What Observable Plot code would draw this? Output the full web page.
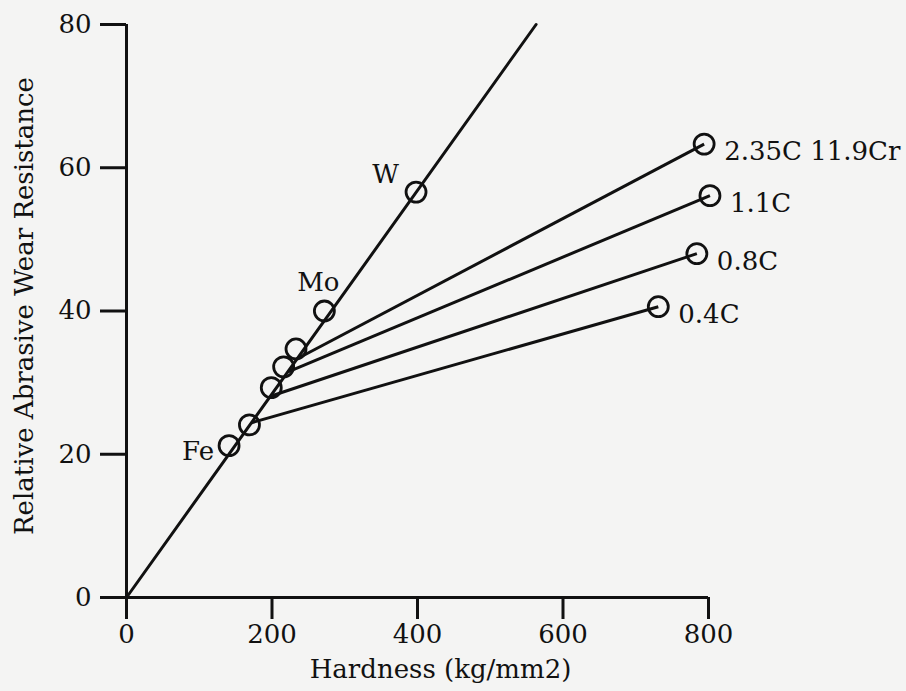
<!DOCTYPE html>
<html>
<head>
<meta charset="utf-8">
<script src="https://cdn.jsdelivr.net/npm/d3@7"></script>
<script src="https://cdn.jsdelivr.net/npm/@observablehq/plot@0.6"></script>
<style>
  html, body { margin: 0; padding: 0; background: #f4f4f3; }
  #chart { width: 906px; height: 691px; }
</style>
</head>
<body>
<div id="chart"></div>
<script>
// ---- data ----
const xTicks = [0, 200, 400, 600, 800];
const yTicks = [0, 20, 40, 60, 80];
const xLabel = "Hardness (kg/mm2)";
const yLabel = "Relative Abrasive Wear Resistance";

// pure-metal trend line (through origin)
const ironLineHardness = [0, 563];
const ironLineResistance = [0, 80];

// pure metals
const metalNames = ["Fe", "Mo", "W"];
const metalHardness = [141, 272, 398];
const metalResistance = [21.2, 40.0, 56.6];

// steels: annealed points near the trend line, hardened end points
const steelNames = ["0.4C", "0.8C", "1.1C", "2.35C 11.9Cr"];
const steelSoftHardness = [169, 199, 216, 233];
const steelSoftResistance = [24.1, 29.3, 32.2, 34.7];
const steelStartHardness = [172, 198, 222, 234];
const steelStartResistance = [24.4, 28.1, 31.5, 33.3];
const steelHardHardness = [731, 784, 802, 794];
const steelHardResistance = [40.6, 48.0, 56.1, 63.3];

// ---- build tables ----
const ironLine = ironLineHardness.map((h, i) => ({h, r: ironLineResistance[i]}));
const metals = metalNames.map((name, i) => ({name, h: metalHardness[i], r: metalResistance[i]}));
const steels = steelNames.map((name, i) => ({
  name,
  hs: steelSoftHardness[i], rs: steelSoftResistance[i],
  h0: steelStartHardness[i], r0: steelStartResistance[i],
  h1: steelHardHardness[i], r1: steelHardResistance[i]
}));
const ink = "#111";
const metalByName = n => metals.filter(d => d.name === n);

const chart = Plot.plot({
  width: 906,
  height: 691,
  marginLeft: 126,
  marginRight: 198,
  marginTop: 24,
  marginBottom: 94,
  x: {domain: [0, 800]},
  y: {domain: [0, 80]},
  style: {background: "transparent", fontFamily: "DejaVu Serif", fontSize: "26px", color: ink},
  marks: [
    Plot.axisX(xTicks, {tickSize: 22, tickPadding: 5, strokeWidth: 3, label: null, tickFormat: d => String(d)}),
    Plot.axisY(yTicks, {tickSize: 26, tickPadding: 9, strokeWidth: 3, label: null, tickFormat: d => String(d)}),
    Plot.ruleX([0], {strokeWidth: 3, stroke: ink}),
    Plot.ruleY([0], {strokeWidth: 3, stroke: ink}),
    Plot.line(ironLine, {x: "h", y: "r", stroke: ink, strokeWidth: 3}),
    Plot.link(steels, {x1: "h0", y1: "r0", x2: "h1", y2: "r1", stroke: ink, strokeWidth: 3}),
    Plot.dot(metals, {x: "h", y: "r", r: 10, stroke: ink, strokeWidth: 2.8}),
    Plot.dot(steels, {x: "hs", y: "rs", r: 10, stroke: ink, strokeWidth: 2.8}),
    Plot.dot(steels, {x: "h1", y: "r1", r: 10, stroke: ink, strokeWidth: 2.8}),
    Plot.text(steels, {x: "h1", y: "r1", text: "name", textAnchor: "start", dx: 20, dy: 8, fill: ink}),
    Plot.text(metalByName("Fe"), {x: "h", y: "r", text: "name", textAnchor: "end", dx: -15, dy: 6, fill: ink}),
    Plot.text(metalByName("Mo"), {x: "h", y: "r", text: "name", textAnchor: "middle", dx: -6, dy: -28, fill: ink}),
    Plot.text(metalByName("W"), {x: "h", y: "r", text: "name", textAnchor: "end", dx: -17, dy: -17, fill: ink}),
    Plot.text([xLabel], {frameAnchor: "bottom", textAnchor: "middle", lineAnchor: "bottom", dx: 23, dy: 80, fill: ink}),
    Plot.text([yLabel], {frameAnchor: "left", textAnchor: "middle", rotate: -90, lineAnchor: "bottom", dx: -94, dy: -5, fill: ink})
  ]
});
document.getElementById("chart").appendChild(chart);
</script>
</body>
</html>
